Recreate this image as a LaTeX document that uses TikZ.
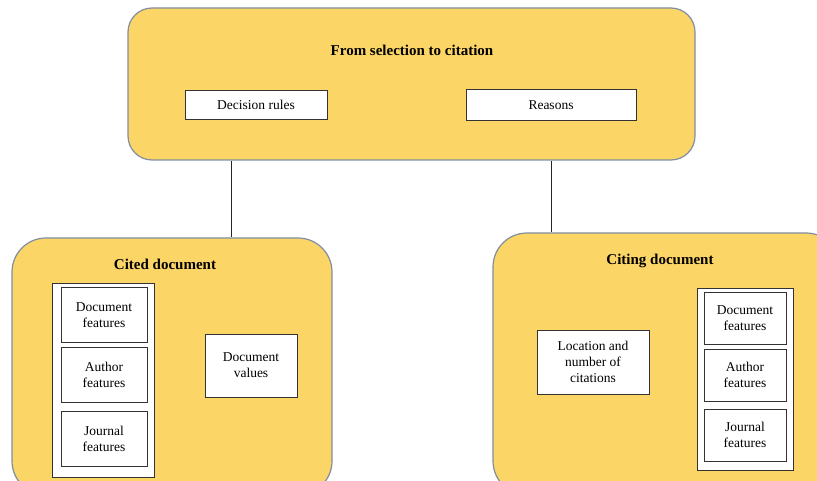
\documentclass[tikz,border=0pt]{standalone}
\usepackage{fontspec}
\setmainfont{Liberation Serif}
\definecolor{boxyellow}{RGB}{251,213,101}
\definecolor{boxedge}{RGB}{128,142,162}
\tikzset{%
	group box/.style={
		rectangle,
		rounded corners=30pt,
		draw=boxedge,
		fill=boxyellow,
		line width=1.2pt
	},
	item box/.style={
		rectangle,
		draw=black!80,
		fill=white,
		line width=0.9pt,
		align=center,
		inner sep=0pt,
		font=\fontsize{13.5}{16}\selectfont
	},
	group title/.style={
		font=\fontsize{15}{18}\selectfont\bfseries
	},
	link/.style={
		draw=black!85,
		line width=1pt
	},
}

\begin{document}
\begin{tikzpicture}[x=1pt,y=1pt]
		\useasboundingbox (0,0) rectangle (817,480);
		% Groups
		\node [group box, rounded corners=24pt, minimum width=567pt, minimum height=152pt] (selection) at (411.5,396) {};
		\node [group title] (selection-title) at (412,430) {From selection to citation};
		\node [item box, minimum width=142pt, minimum height=29pt] (rules) at (256,375.5) {Decision rules};
		\node [item box, minimum width=170pt, minimum height=31pt] (reasons) at (551,375) {Reasons};
		
		\node [group box, rounded corners=34pt, minimum width=320pt, minimum height=257pt] (cited) at (172,113.5) {};
		\node [group title] (cited-title) at (165,216) {Cited document};
		\node [item box, minimum width=102pt, minimum height=194pt] (cited-column) at (103,100) {};
		\foreach \m/\t/\y in {1/Document/165,2/Author/105,3/Journal/41}
		\node [item box, minimum width=86pt, minimum height=55pt] (cited-feature-\m) at (104,\y) {\t\\features};
		\node [item box, minimum width=92pt, minimum height=63pt] (cited-values) at (251,114.5) {Document\\values};
		
		\node [group box, rounded corners=34pt, minimum width=347pt, minimum height=262pt] (citing) at (666.5,116) {};
		\node [group title] (citing-title) at (660,219) {Citing document};
		\node [item box, minimum width=112pt, minimum height=64pt] (citing-location) at (593,118) {Location and\\number of\\citations};
		\node [item box, minimum width=96pt, minimum height=182pt] (citing-column) at (745,101) {};
		\foreach \m/\t/\y in {1/Document/161.5,2/Author/105,3/Journal/45}
		\node [item box, minimum width=82pt, minimum height=52pt] (citing-feature-\m) at (745,\y) {\t\\features};
		
		%Edges
		\draw [link] ([xshift=59pt]cited.north |- selection.south) -- ([xshift=59pt]cited.north);
		\draw [link] (reasons.south |- selection.south) -- (reasons.south |- citing.north);
\end{tikzpicture}
\end{document}
